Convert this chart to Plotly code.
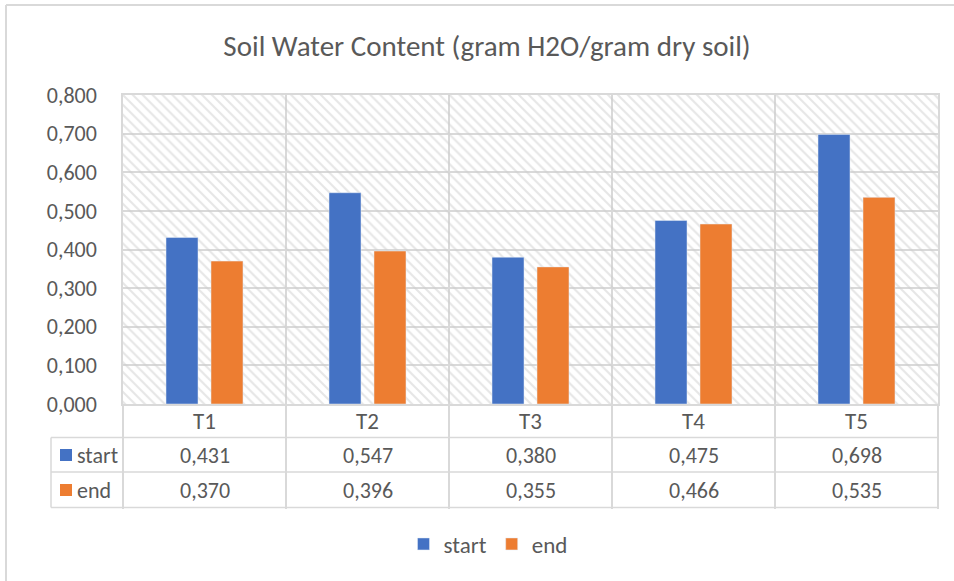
import plotly.graph_objects as go

# values
categories = ["T1", "T2", "T3", "T4", "T5"]
start_vals = [0.431, 0.547, 0.380, 0.475, 0.698]
end_vals = [0.370, 0.396, 0.355, 0.466, 0.535]
series_names = ["start", "end"]
y_ticks = [0.0, 0.1, 0.2, 0.3, 0.4, 0.5, 0.6, 0.7, 0.8]

BLUE = "#4472C4"
ORANGE = "#ED7D31"
GREY_TXT = "#595959"
GRID = "#d9d9d9"
FONT = "Carlito, Calibri, Lato, sans-serif"

# page / plot area in pixels
W, H = 954, 581
L, R, T, B = 123, 938, 95, 404


def fx(p):
    return (p - L) / (R - L)


def fy(p):
    return (B - p) / (B - T)


def fmt(v):
    return f"{v:.3f}".replace(".", ",")


fig = go.Figure()

# hatched plot background (Excel "wide downward diagonal")
fig.add_trace(go.Bar(
    x=["T3"], y=[0.8], width=[5], xaxis="x", yaxis="y",
    marker=dict(color="rgba(0,0,0,0)", line=dict(width=0),
                pattern=dict(shape="\\", fgcolor="#cdcdcd", bgcolor="rgba(0,0,0,0)",
                             size=7, solidity=0.3)),
    showlegend=False, hoverinfo="skip"))

fig.add_trace(go.Bar(x=categories, y=start_vals, name=series_names[0],
                     marker=dict(color=BLUE), xaxis="x2", yaxis="y"))
fig.add_trace(go.Bar(x=categories, y=end_vals, name=series_names[1],
                     marker=dict(color=ORANGE), xaxis="x2", yaxis="y"))

shapes = []
line = dict(color=GRID, width=1.5)

# outer chart border (left + top only are in frame)
shapes.append(dict(type="line", xref="paper", yref="paper", x0=fx(6), x1=fx(6), y0=fy(5), y1=fy(H + 5), line=dict(color=GRID, width=2)))
shapes.append(dict(type="line", xref="paper", yref="paper", x0=fx(6), x1=fx(W + 5), y0=fy(5), y1=fy(5), line=dict(color=GRID, width=2)))

# data table grid
for yy in [437.5, 472, 507.5]:
    shapes.append(dict(type="line", xref="paper", yref="paper", x0=fx(51), x1=fx(R), y0=fy(yy), y1=fy(yy), line=line))
shapes.append(dict(type="line", xref="paper", yref="paper", x0=fx(51), x1=fx(51), y0=fy(437.5), y1=fy(507.5), line=line))

# legend keys in table
for (y0, y1), c in zip([(449, 461), (484, 496)], [BLUE, ORANGE]):
    shapes.append(dict(type="rect", xref="paper", yref="paper", x0=fx(60), x1=fx(72), y0=fy(y0), y1=fy(y1),
                       fillcolor=c, line=dict(width=0)))

annotations = []
tfont = dict(family=FONT, size=22, color=GREY_TXT)
cfont = dict(family=FONT, size=23, color=GREY_TXT)
for i, c in enumerate(categories):
    annotations.append(dict(x=c, xref="x", y=fy(421), yref="paper", text=c, showarrow=False, font=cfont, yanchor="middle"))
    annotations.append(dict(x=c, xref="x", y=fy(455), yref="paper", text=fmt(start_vals[i]), showarrow=False, font=tfont, yanchor="middle"))
    annotations.append(dict(x=c, xref="x", y=fy(490), yref="paper", text=fmt(end_vals[i]), showarrow=False, font=tfont, yanchor="middle"))
annotations.append(dict(x=fx(75), xref="paper", y=fy(455), yref="paper", text="start", showarrow=False, font=tfont, xanchor="left", yanchor="middle"))
annotations.append(dict(x=fx(75), xref="paper", y=fy(490), yref="paper", text="end", showarrow=False, font=tfont, xanchor="left", yanchor="middle"))

fig.update_layout(
    width=W, height=H,
    margin=dict(l=L, r=W - R, t=T, b=H - B),
    paper_bgcolor="white", plot_bgcolor="white",
    separators=",.",
    font=dict(family=FONT, color=GREY_TXT),
    title=dict(text="Soil Water Content (gram H2O/gram dry soil)", x=487 / W, xref="container", xanchor="center",
               y=1 - 46 / H, yref="container", yanchor="middle", font=dict(family=FONT, size=29, color=GREY_TXT)),
    barmode="group", bargap=0.448, bargroupgap=0.289,
    xaxis=dict(type="category", categoryorder="array", categoryarray=categories, range=[-0.5, 4.5],
               tickson="boundaries", ticks="outside", ticklen=103.5, tickwidth=1.5, tickcolor=GRID,
               showticklabels=False, showgrid=True, gridcolor=GRID, gridwidth=1.5,
               showline=True, linecolor=GRID, linewidth=1.5, mirror=True, zeroline=False, fixedrange=True),
    xaxis2=dict(type="category", categoryorder="array", categoryarray=categories, range=[-0.5, 4.5],
                overlaying="x", visible=False, fixedrange=True),
    yaxis=dict(range=[0, 0.8], tickvals=y_ticks, tickformat=".3f", showgrid=True, gridcolor=GRID, gridwidth=1.5,
               showline=True, linecolor=GRID, linewidth=1.5, mirror=True, zeroline=False, ticks="",
               ticklabelstandoff=20, tickfont=dict(family=FONT, size=22, color=GREY_TXT), fixedrange=True),
    legend=dict(orientation="h", x=fx(488), xanchor="center", y=fy(544), yanchor="middle",
                font=dict(family=FONT, size=23, color=GREY_TXT), itemwidth=30, traceorder="normal"),
    shapes=shapes, annotations=annotations,
    hovermode=False,
)

# the page's default body margin would shift the chart by 8px
fig.write_html("out.html", config={"displayModeBar": False},
               post_script="document.body.style.margin='0';")
